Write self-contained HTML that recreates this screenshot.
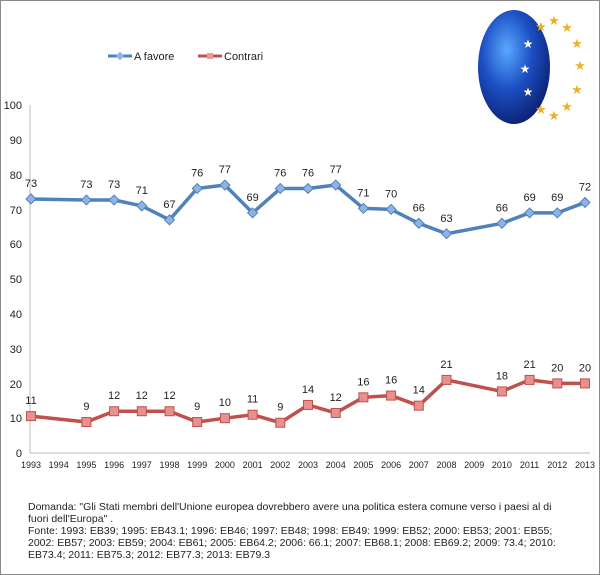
<!DOCTYPE html>
<html><head><style>body{margin:0;background:#fff}svg{display:block;font-family:"Liberation Sans",sans-serif}</style></head>
<body>
<svg width="600" height="575" viewBox="0 0 600 575">
<rect x="0.5" y="0.5" width="599" height="574" fill="#fff" stroke="#888"/>
<defs><radialGradient id="g" cx="0.4" cy="0.35" r="0.7"><stop offset="0" stop-color="#5aa8ff"/><stop offset="0.5" stop-color="#1c4fc4"/><stop offset="1" stop-color="#0a1f6e"/></radialGradient></defs>
<ellipse cx="514" cy="67" rx="36" ry="57" fill="url(#g)"/>
<g fill="#f0b020" font-size="13" text-anchor="middle">
<text x="541" y="31">★</text><text x="554" y="25">★</text><text x="567" y="32">★</text><text x="577" y="48">★</text><text x="580" y="70">★</text><text x="577" y="94">★</text><text x="567" y="111">★</text><text x="554" y="120">★</text><text x="541" y="114">★</text></g>
<g fill="#fff" font-size="12" text-anchor="middle"><text x="528" y="48">★</text><text x="525" y="73">★</text><text x="528" y="96">★</text></g>
<line x1="108" y1="56" x2="132" y2="56" stroke="#4f81bd" stroke-width="3"/><rect x="117" y="53" width="6" height="6" fill="#8fb4e3" transform="rotate(45 120 56)"/>
<text x="134" y="60" font-size="11" fill="#222">A favore</text>
<line x1="198" y1="56" x2="222" y2="56" stroke="#c0504d" stroke-width="3"/><rect x="207" y="53" width="6" height="6" fill="#e89a98"/>
<text x="224" y="60" font-size="11" fill="#222">Contrari</text>
<line x1="30" y1="105" x2="30" y2="453" stroke="#bbb"/><line x1="30" y1="453" x2="590" y2="453" stroke="#bbb"/>
<g font-size="11" fill="#222" text-anchor="end">
<text x="22" y="457">0</text><text x="22" y="422">10</text><text x="22" y="388">20</text><text x="22" y="353">30</text><text x="22" y="318">40</text><text x="22" y="283">50</text><text x="22" y="248">60</text><text x="22" y="214">70</text><text x="22" y="179">80</text><text x="22" y="144">90</text><text x="22" y="109">100</text></g>
<g id="yrs" font-size="9" fill="#222" text-anchor="middle"></g>
<polyline id="bl" fill="none" stroke="#4f81bd" stroke-width="3.5" stroke-linejoin="round"/>
<polyline id="rl" fill="none" stroke="#c0504d" stroke-width="3.5" stroke-linejoin="round"/>
<g id="pts"></g>
<g font-size="10.5" fill="#222">
<text x="28" y="510">Domanda: "Gli Stati membri dell'Unione europea dovrebbero avere una politica estera comune verso i paesi al di</text>
<text x="28" y="522">fuori dell'Europa" .</text>
<text x="28" y="534">Fonte: 1993: EB39; 1995: EB43.1; 1996: EB46; 1997: EB48; 1998: EB49: 1999: EB52; 2000: EB53; 2001: EB55;</text>
<text x="28" y="546">2002: EB57; 2003: EB59; 2004: EB61; 2005: EB64.2; 2006: 66.1; 2007: EB68.1; 2008: EB69.2; 2009: 73.4; 2010:</text>
<text x="28" y="558">EB73.4; 2011: EB75.3; 2012: EB77.3; 2013: EB79.3</text></g>
</svg>
<script>
var NS="http://www.w3.org/2000/svg";
function X(y){return 31+(y-1993)*27.7}function Y(v){return 453-v*3.48}
var yrs=document.getElementById('yrs');for(var y=1993;y<=2013;y++){var t=document.createElementNS(NS,'text');t.setAttribute('x',X(y));t.setAttribute('y',468);t.textContent=y;yrs.appendChild(t);}
var ys=[1993,1995,1996,1997,1998,1999,2000,2001,2002,2003,2004,2005,2006,2007,2008,2010,2011,2012,2013];
var b=[73,72.7,72.7,71,67,76,77,69,76,76,77,70.3,70,66,63,66,69,69,72],bl=[73,73,73,71,67,76,77,69,76,76,77,71,70,66,63,66,69,69,72];
var r=[10.6,8.9,12,12,12,8.9,10,11,8.7,13.8,11.5,16,16.5,13.6,21,17.7,21,20,20],rl=[11,9,12,12,12,9,10,11,9,14,12,16,16,14,21,18,21,20,20];
var p1=[],p2=[],g=document.getElementById('pts');
ys.forEach(function(y,i){p1.push(X(y)+','+Y(b[i]));p2.push(X(y)+','+Y(r[i]));
var d=document.createElementNS(NS,'rect');d.setAttribute('x',X(y)-3.5);d.setAttribute('y',Y(b[i])-3.5);d.setAttribute('width',7);d.setAttribute('height',7);d.setAttribute('fill','#8fb4e3');d.setAttribute('stroke','#4f81bd');d.setAttribute('transform','rotate(45 '+X(y)+' '+Y(b[i])+')');g.appendChild(d);
var s=document.createElementNS(NS,'rect');s.setAttribute('x',X(y)-4.5);s.setAttribute('y',Y(r[i])-4.5);s.setAttribute('width',9);s.setAttribute('height',9);s.setAttribute('fill','#e8908e');s.setAttribute('stroke','#c0504d');g.appendChild(s);
[[bl[i],b[i]],[rl[i],r[i]]].forEach(function(a){var t=document.createElementNS(NS,'text');t.setAttribute('x',X(y));t.setAttribute('y',Y(a[1])-12);t.setAttribute('font-size','11');t.setAttribute('fill','#222');t.setAttribute('text-anchor','middle');t.textContent=a[0];g.appendChild(t);});});
document.getElementById('bl').setAttribute('points',p1.join(' '));document.getElementById('rl').setAttribute('points',p2.join(' '));
</script>
</body></html>
